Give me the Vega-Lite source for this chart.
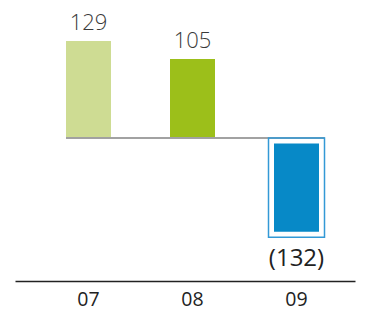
{
  "$schema": "https://vega.github.io/schema/vega-lite/v6.json",
  "width": 340,
  "height": 281,
  "autosize": {"type": "none"},
  "padding": {"left": 15, "top": 0, "right": 14, "bottom": 29},
  "background": "white",
  "config": {"view": {"stroke": null}, "font": "Open Sans"},
  "data": {
    "values": [
      {"year": "07", "value": 129, "label": "129", "highlight": false},
      {"year": "08", "value": 105, "label": "105", "highlight": false},
      {"year": "09", "value": -132, "label": "(132)", "highlight": true}
    ]
  },
  "encoding": {
    "x": {
      "field": "year",
      "type": "ordinal",
      "scale": {"paddingInner": 0, "paddingOuter": 0.1346, "align": 0.768},
      "axis": {
        "title": null,
        "ticks": false,
        "grid": false,
        "domainColor": "#222222",
        "domainWidth": 1.6,
        "labelFontSize": 19.5,
        "labelColor": "#222222",
        "labelBaseline": "middle",
        "labelPadding": 18,
        "labelAngle": 0,
        "labelFont": "Open Sans"
      }
    },
    "y": {
      "field": "value",
      "type": "quantitative",
      "scale": {"domain": [-190.2, 183.5], "nice": false, "zero": false},
      "axis": null
    }
  },
  "layer": [
    {
      "transform": [{"filter": "!datum.highlight"}],
      "mark": {"type": "bar", "size": 45},
      "encoding": {
        "color": {
          "field": "year",
          "type": "nominal",
          "scale": {"domain": ["07", "08"], "range": ["#cedc93", "#9cbf1a"]},
          "legend": null
        }
      }
    },
    {
      "transform": [{"filter": "datum.highlight"}],
      "mark": {"type": "bar", "size": 56, "fill": "#0789c7", "stroke": "white", "strokeWidth": 11}
    },
    {
      "mark": {"type": "rule", "color": "#a0a0a0", "strokeWidth": 1.5, "xOffset": -22.5, "x2Offset": 28},
      "encoding": {
        "x": {"datum": "07", "type": "ordinal"},
        "x2": {"datum": "09"},
        "y": {"datum": 0, "type": "quantitative"}
      }
    },
    {
      "transform": [{"filter": "datum.highlight"}],
      "mark": {"type": "bar", "size": 56, "fillOpacity": 0, "stroke": "#3399d6", "strokeWidth": 1.5}
    },
    {
      "transform": [{"filter": "datum.value > 0"}],
      "mark": {"type": "text", "baseline": "alphabetic", "dy": -11, "fontSize": 22, "fontWeight": 300, "color": "#3a3a3a", "font": "Open Sans"},
      "encoding": {"text": {"field": "label"}}
    },
    {
      "transform": [{"filter": "datum.value < 0"}],
      "mark": {"type": "text", "baseline": "top", "dy": 10, "fontSize": 24, "color": "#222222", "font": "Open Sans"},
      "encoding": {"text": {"field": "label"}}
    }
  ]
}
